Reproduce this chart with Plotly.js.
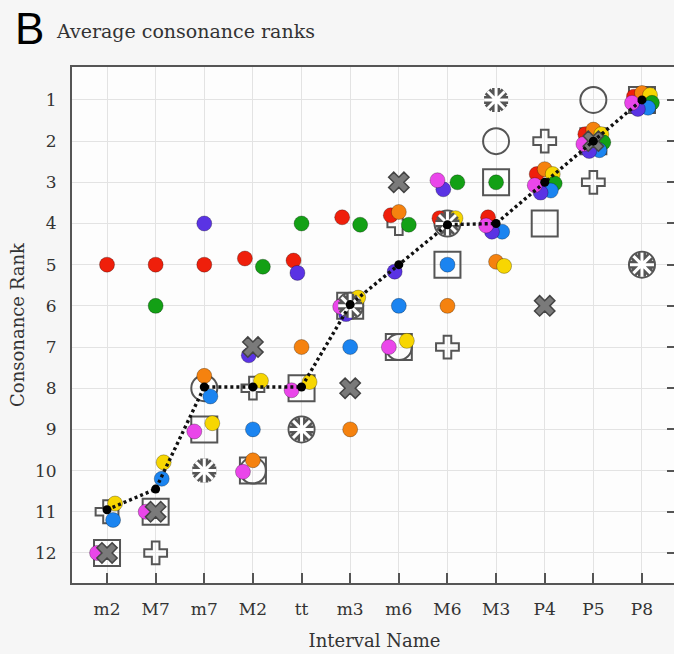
<!DOCTYPE html>
<html><head><meta charset="utf-8">
<script src="https://cdn.plot.ly/plotly-3.0.1.min.js"></script>
<style>html,body{margin:0;padding:0;overflow:hidden;background:#f6f6f6}</style>
</head><body><div id="chart" style="width:680px;height:654px"></div>
<script>
// ---- data ----
const intervals = ['m2','M7','m7','M2','tt','m3','m6','M6','M3','P4','P5','P8'];
const rankTicks = [1,2,3,4,5,6,7,8,9,10,11,12];

// coloured studies: consonance rank of each interval (null = not shown)
const red     = [5.0, 5.0, 5.0, 4.85, 4.9, 3.85, 3.8, 3.87, 3.85, 2.8, 1.83, 0.92];
const orange  = [null, null, 7.7, 9.75, 7.0, 9.0, 3.72, 6.0, 4.93, 2.68, 1.72, 0.83];
const yellow  = [10.8, 9.8, 8.85, 7.82, 7.85, 5.8, 6.85, 3.87, 5.03, 2.8, 1.83, 0.88];
const green   = [null, 6.0, null, 5.05, 4.0, 4.03, 4.03, 3.0, 3.0, 3.03, 2.03, 1.07];
const blue    = [11.2, 10.2, 8.2, 9.0, null, 7.0, 6.0, 5.0, 4.2, 3.2, 2.22, 1.19];
const indigo  = [null, null, 4.0, 7.2, 5.2, 6.2, 5.17, 3.17, 4.2, 3.25, 2.24, 1.22];
const magenta = [12.0, 11.0, 9.05, 10.03, 8.05, 6.02, 7.0, 2.95, 4.05, 3.07, 2.07, 1.07];

// grey studies
const squareRanks   = [12, 11, 9, 10, 8, 6, 7, 5, 3, 4, 2, 1];
const circleRanks   = [null, null, 8, 10, 9, 6, 7, 4, 2, 3, 1, 5];
const plusRanks     = [11, 12, null, 8, null, null, 4, 7, null, 2, 3, null];
const crossRanks    = [12, 11, null, 7, null, 8, 3, null, null, 6, 2, null];
const asteriskRanks = [null, null, 10, null, 9, 6, null, 4, 1, null, null, 5];

// average rank
const meanRank = [10.95, 10.45, 7.97, 7.97, 7.97, 5.97, 5.0, 4.03, 4.0, 3.0, 2.0, 1.0];

// ---- styling ----
const colourSeries = [
  {name:'red',     y:red,     color:'#ef1f0b', dodge:-0.165},
  {name:'orange',  y:orange,  color:'#f5820f', dodge:0},
  {name:'yellow',  y:yellow,  color:'#f7d602', dodge:0.165},
  {name:'green',   y:green,   color:'#13a015', dodge:0.205},
  {name:'blue',    y:blue,    color:'#1b84f0', dodge:0.125},
  {name:'indigo',  y:indigo,  color:'#5a33e4', dodge:-0.085},
  {name:'magenta', y:magenta, color:'#ea46ea', dodge:-0.205}
];
const idx = intervals.map((_, i) => i);
const GREY = '#555555';

// a coloured dot is pushed aside only when it would collide with another dot,
// the average marker or a filled cross at the same interval
function crowded(s, i) {
  const r = s.y[i];
  const near = v => v !== null && v !== undefined && Math.abs(v - r) < 0.6;
  for (const o of colourSeries) if (o !== s && near(o.y[i])) return true;
  return near(meanRank[i]) || near(crossRanks[i]);
}

const traces = [];
function markers(ys, symbol, size, color, lineColor, width) {
  traces.push({x: idx, y: ys, type: 'scatter', mode: 'markers', hoverinfo: 'skip',
    marker: {symbol: symbol, size: size, color: color, line: {color: lineColor, width: width}}});
}
markers(squareRanks, 'square-open', 26, GREY, GREY, 2);
markers(circleRanks, 'circle-open', 26, GREY, GREY, 2);
markers(plusRanks, 'cross-open', 19, GREY, GREY, 2);

for (const s of colourSeries) {
  traces.push({
    x: idx.map(i => i + (s.y[i] !== null && crowded(s, i) ? s.dodge : 0)),
    y: s.y, type: 'scatter', mode: 'markers', name: s.name,
    marker: {size: 15, color: s.color, line: {color: 'rgba(0,0,0,0.28)', width: 1}}
  });
}

markers(crossRanks, 'x', 18, '#7a7a7a', '#444', 1.5);
// hollow asterisk: thick grey spokes with a white core
markers(asteriskRanks, 'asterisk-open', 20, GREY, GREY, 8);
markers(asteriskRanks, 'asterisk-open', 20, '#ffffff', '#ffffff', 3);

traces.push({x: idx, y: meanRank, type: 'scatter', mode: 'lines+markers',
  line: {color: '#111', width: 3.4, dash: '3px,3px'},
  marker: {size: 9, color: '#000'}});
// right-hand tick axis
traces.push({x: idx, y: meanRank, yaxis: 'y2', type: 'scatter', mode: 'markers',
  marker: {opacity: 0}, hoverinfo: 'skip'});

const serif = 'DejaVu Serif, serif';
const layout = {
  width: 680, height: 654,
  paper_bgcolor: '#f6f6f6', plot_bgcolor: '#fdfdfd',
  margin: {l: 72, r: 3, t: 67, b: 71},
  showlegend: false,
  xaxis: {
    range: [-0.72, 11.72], tickvals: idx, ticktext: intervals,
    ticks: 'inside', ticklen: 10, tickwidth: 2, tickcolor: GREY,
    showline: true, linewidth: 2, linecolor: GREY, mirror: true,
    showgrid: true, gridcolor: '#e3e3e3', gridwidth: 1, zeroline: false,
    tickfont: {family: serif, size: 17, color: '#333'}, ticklabelstandoff: 10,
    title: {text: 'Interval Name', font: {family: serif, size: 18, color: '#333'}, standoff: 16}
  },
  yaxis: {
    range: [12.73, 0.2], tickvals: rankTicks, ticks: '',
    showline: true, linewidth: 2, linecolor: GREY, mirror: true,
    showgrid: true, gridcolor: '#e3e3e3', gridwidth: 1, zeroline: false,
    tickfont: {family: serif, size: 17, color: '#333'}, ticklabelstandoff: 10,
    title: {text: 'Consonance Rank', font: {family: serif, size: 18, color: '#333'}, standoff: 6}
  },
  yaxis2: {
    overlaying: 'y', side: 'right', range: [12.73, 0.2], tickvals: rankTicks,
    ticks: 'inside', ticklen: 10, tickwidth: 2, tickcolor: GREY,
    showticklabels: false, showgrid: false, zeroline: false, showline: false
  },
  annotations: [
    {text: 'B', xref: 'paper', yref: 'paper', x: -0.0975, y: 1.074, xanchor: 'left', yanchor: 'middle',
     showarrow: false, font: {family: 'Liberation Sans, Arial, sans-serif', size: 44, color: '#000'}},
    {text: 'Average consonance ranks', xref: 'paper', yref: 'paper', x: -0.0297, y: 1.07,
     xanchor: 'left', yanchor: 'middle', showarrow: false,
     font: {family: serif, size: 19, color: '#333'}}
  ]
};
Plotly.newPlot('chart', traces, layout, {displayModeBar: false, staticPlot: true});
</script></body></html>
